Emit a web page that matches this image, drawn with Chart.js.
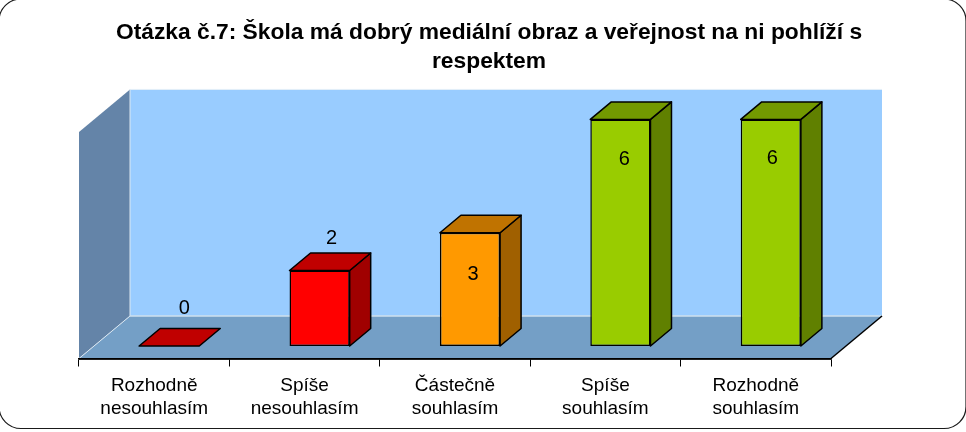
<!DOCTYPE html>
<html>
<head>
<meta charset="utf-8">
<style>html,body{margin:0;padding:0;background:#fff;overflow:hidden}canvas{display:block}</style>
<script src="https://cdn.jsdelivr.net/npm/chart.js@4/dist/chart.umd.min.js"></script>
</head>
<body>
<canvas id="c" width="966" height="432"></canvas>
<script>
const titleLines = ["Otázka č.7: Škola má dobrý mediální obraz a veřejnost na ni pohlíží s", "respektem"];
const categories = [["Rozhodně","nesouhlasím"],["Spíše","nesouhlasím"],["Částečně","souhlasím"],["Spíše","souhlasím"],["Rozhodně","souhlasím"]];
const values = [0, 2, 3, 6, 6];
const frontColors = ["#FF0000","#FF0000","#FF9900","#99CC00","#99CC00"];
const topColors = ["#C00000","#C00000","#C07300","#739900","#739900"];
const sideColors = ["#A00000","#A00000","#A06000","#608000","#608000"];

const WALL_DX = 51, WALL_DY = 42.5;   // depth of the 3D box
const BAR_DX = 15, BAR_DY = 12.5;     // bar offset into the floor
const BAR_DEPTH_X = 21, BAR_DEPTH_Y = 17.5;
const LABEL_SHIFT = [[15,-37.5],[12,-32],[3,41.5],[4,40],[1.5,39.5]];

function poly(ctx, pts, fill, stroke, lw){
  ctx.beginPath();
  pts.forEach((p,i)=> i ? ctx.lineTo(p[0],p[1]) : ctx.moveTo(p[0],p[1]));
  ctx.closePath();
  if (fill){ ctx.fillStyle = fill; ctx.fill(); }
  if (stroke){ ctx.strokeStyle = stroke; ctx.lineWidth = lw || 1; ctx.lineJoin='round'; ctx.stroke(); }
}
function line(ctx, x1,y1,x2,y2,color,lw){
  ctx.beginPath(); ctx.moveTo(x1,y1); ctx.lineTo(x2,y2);
  ctx.strokeStyle=color; ctx.lineWidth=lw||1; ctx.stroke();
}

const box3d = {
  id:'box3d',
  beforeDraw(chart){
    const ctx = chart.ctx, a = chart.chartArea;
    const L=a.left,R=a.right,T=a.top,B=a.bottom;
    ctx.save();
    ctx.fillStyle='#fff'; ctx.fillRect(0,0,966,432);
    ctx.beginPath(); ctx.roundRect(-1,-1,967,429.5,22);
    ctx.strokeStyle='#1a1a1a'; ctx.lineWidth=1.2; ctx.stroke();
    poly(ctx,[[L+WALL_DX,T-WALL_DY],[R+WALL_DX,T-WALL_DY],[R+WALL_DX,B-WALL_DY],[L+WALL_DX,B-WALL_DY]],'#99CCFF');
    poly(ctx,[[L,T],[L+WALL_DX,T-WALL_DY],[L+WALL_DX,B-WALL_DY],[L,B]],'#6484A8');
    poly(ctx,[[L,B],[L+WALL_DX,B-WALL_DY],[R+WALL_DX,B-WALL_DY],[R,B]],'#749FC6');
    line(ctx,L+WALL_DX,T-WALL_DY,R+WALL_DX,T-WALL_DY,'#E4EFF8',1);
    line(ctx,L+WALL_DX,T-WALL_DY,L+WALL_DX,B-WALL_DY,'#DCE8F2',1);
    line(ctx,L+WALL_DX,B-WALL_DY,R+WALL_DX,B-WALL_DY,'#CFE0EE',1.5);
    line(ctx,L,B,L+WALL_DX,B-WALL_DY,'#DCE8F2',1);
    line(ctx,R,B,R+WALL_DX,B-WALL_DY,'#000',1.5);
    ctx.restore();
    chart.titleBlock.left = 12; chart.titleBlock.right = 966;
  },
  beforeDatasetDraw(chart,args){
    const ctx = chart.ctx;
    const meta = chart.getDatasetMeta(args.index);
    ctx.save();
    meta.data.forEach((el,i)=>{
      const p = el.getProps(['x','y','base','width'],true);
      const x0=p.x-p.width/2+BAR_DX, x1=p.x+p.width/2+BAR_DX;
      const yt=p.y-BAR_DY, yb=p.base-BAR_DY;
      const dx=BAR_DEPTH_X, dy=BAR_DEPTH_Y;
      if (yb-yt>0.5) poly(ctx,[[x1,yt],[x1+dx,yt-dy],[x1+dx,yb-dy],[x1,yb]],sideColors[i],'#000',1.5);
      poly(ctx,[[x0,yt],[x1,yt],[x1+dx,yt-dy],[x0+dx,yt-dy]],topColors[i],'#000',1.5);
    });
    ctx.restore();
    ctx.save();
    ctx.translate(BAR_DX,-BAR_DY);
  },
  afterDatasetDraw(chart){ chart.ctx.restore(); },
  afterDatasetsDraw(chart){
    const ctx = chart.ctx, a = chart.chartArea;
    const meta = chart.getDatasetMeta(0);
    ctx.save();
    line(ctx,a.left,a.bottom+0.5,a.right,a.bottom+0.5,'#000',1.5);
    ctx.font='20px "Liberation Sans"';
    ctx.fillStyle='#000'; ctx.textAlign='center'; ctx.textBaseline='middle';
    meta.data.forEach((el,i)=>{
      const p = el.getProps(['x','y'],true);
      ctx.fillText(String(values[i]), p.x+BAR_DX+LABEL_SHIFT[i][0], p.y-BAR_DY+LABEL_SHIFT[i][1]);
    });
    ctx.restore();
  }
};

new Chart(document.getElementById('c'),{
  type:'bar',
  plugins:[box3d],
  data:{labels:categories,datasets:[{
    data:values,
    backgroundColor:frontColors,
    borderColor:'#000',
    borderWidth:1.5,
    borderSkipped:false,
    barPercentage:0.4,
    categoryPercentage:1,
    clip:false
  }]},
  options:{
    responsive:false,
    animation:false,
    events:[],
    layout:{padding:{left:79,right:135,top:0,bottom:0}},
    plugins:{
      legend:{display:false},
      tooltip:{enabled:false},
      title:{display:true,text:titleLines,color:'#000',
        font:{family:'"Liberation Sans"',size:22.8,weight:'bold',lineHeight:1.27},
        padding:{top:18,bottom:56}}
    },
    scales:{
      x:{
        offset:true,
        afterFit(s){ s.height = 73.5; },
        border:{display:true,color:'#000',width:1.5},
        grid:{display:true,drawOnChartArea:false,drawTicks:true,tickLength:8,color:'#000',tickWidth:1},
        ticks:{autoSkip:false,maxRotation:0,minRotation:0,color:'#000',padding:8,
          font:{family:'"Liberation Sans"',size:19,lineHeight:1.21}}
      },
      y:{display:false,min:0,max:6}
    }
  }
});
</script>
</body>
</html>
